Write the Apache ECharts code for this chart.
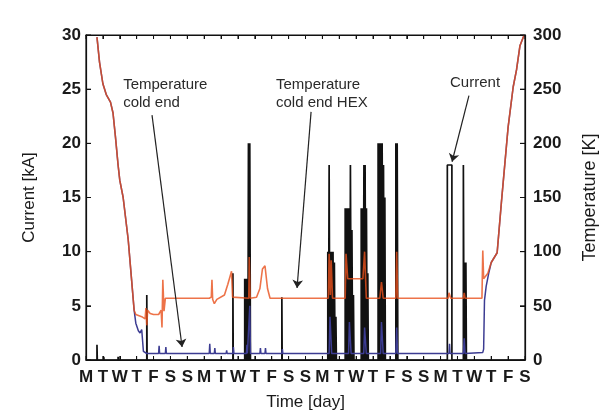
<!DOCTYPE html>
<html>
<head>
<meta charset="utf-8">
<script src="https://cdn.jsdelivr.net/npm/echarts@6/dist/echarts.min.js"></script>
<style>
  html, body { margin: 0; padding: 0; background: #fff; }
  #chart { width: 610px; height: 419px; }
</style>
</head>
<body>
<div id="chart"></div>
<script>
// day labels along the time axis (one per day, starting Monday)
const dayLabels = ['M','T','W','T','F','S','S','M','T','W','T','F','S','S',
                   'M','T','W','T','F','S','S','M','T','W','T','F','S'];
// tick values of the two vertical axes
const currentTicks = [0, 5, 10, 15, 20, 25, 30];
const tempTicks = [0, 50, 100, 150, 200, 250, 300];

// current pulses: start day, width (day), peak (kA)
const pulseDay   = [0.65, 1.05, 1.9, 3.6, 8.7, 9.4, 9.48, 9.56, 9.62, 9.7, 11.6,
                    14.32, 14.4, 14.47, 14.55, 14.63, 14.71, 14.8,
                    15.35, 15.43, 15.51, 15.59, 15.66, 15.75, 15.84,
                    16.3, 16.38, 16.46, 16.53, 16.61, 16.69,
                    17.3, 17.38, 17.46, 17.54, 17.62, 17.7,
                    18.35, 18.43, 21.4, 22.35, 22.42, 22.5];
const pulseWidth = [0.02, 0.02, 0.02, 0.02, 0.02, 0.04, 0.04, 0.03, 0.04, 0.04, 0.02,
                    0.04, 0.04, 0.04, 0.04, 0.04, 0.04, 0.03,
                    0.04, 0.04, 0.04, 0.04, 0.05, 0.04, 0.03,
                    0.04, 0.04, 0.04, 0.04, 0.04, 0.03,
                    0.04, 0.04, 0.04, 0.04, 0.04, 0.03,
                    0.04, 0.04, 0.27, 0.04, 0.04, 0.03];
const pulsePeak  = [1.4, 0.3, 0.3, 6.0, 8.0, 7.5, 7.5, 7.5, 20, 20, 5.8,
                    10, 18, 10, 10, 10, 9, 4,
                    14, 14, 14, 14, 18, 12, 6,
                    14, 14, 18, 18, 14, 8,
                    20, 20, 20, 20, 18, 15,
                    20, 20, 18, 18, 9, 9];

// temperature cold end HEX [day, K]
const hexTemp = [[0.65,298],[0.8,275],[1.0,255],[1.2,245],[1.45,238],[1.6,228],[1.75,205],[1.9,180],
  [2.0,166],[2.2,150],[2.5,111],[2.7,74],[2.85,46],[2.95,42],[3.3,40],[3.5,38],[3.55,48],[3.6,32],
  [3.65,46],[3.8,43],[4.0,42],[4.3,42],[4.45,46],[4.5,30],[4.55,74],[4.62,45],[4.7,57],[7.3,57],
  [7.42,58],[7.46,74],[7.5,56],[7.6,52],[7.75,56],[8.2,60],[8.4,70],[8.62,82],[8.68,58],[9.64,57],
  [9.67,95],[9.72,57],[10.1,58],[10.3,66],[10.45,84],[10.6,87],[10.75,66],[10.9,57],[14.35,57],
  [14.4,98],[14.47,60],[14.52,92],[14.6,57],[15.35,57],[15.4,98],[15.5,75],[16.4,75],[16.5,100],
  [16.6,57],[17.4,57],[17.5,72],[17.6,57],[18.35,57],[18.4,100],[18.46,57],[21.45,57],[21.5,62],
  [21.6,57],[22.35,57],[22.4,62],[22.45,57],[23.45,57],[23.5,101],[23.55,75],[23.8,80],[24.0,90],
  [24.35,99],[24.6,145],[25.0,215],[25.3,252],[25.5,268],[25.7,290],[25.95,300]];

// temperature cold end [day, K]
const coldTemp = [[0.65,298],[0.8,275],[1.0,255],[1.2,245],[1.45,238],[1.6,228],[1.75,205],[1.9,180],
  [2.0,166],[2.2,150],[2.5,111],[2.7,74],[2.85,46],[2.95,34],[3.1,27],[3.2,25],[3.3,28],[3.35,18],
  [3.4,8],[3.6,6],[4.3,6],[4.33,13],[4.36,6],[4.7,6],[4.73,12],[4.76,6],[7.3,6],[7.33,15],[7.36,6],
  [7.6,6],[7.63,11],[7.66,6],[8.3,6],[8.33,9],[8.36,6],[8.7,6],[8.73,12],[8.76,6],[9.5,6],[9.53,14],
  [9.56,6],[9.66,6],[9.7,50],[9.74,6],[10.3,6],[10.33,11],[10.36,6],[10.6,6],[10.63,11],[10.66,6],
  [11.6,6],[11.63,10],[11.66,6],[14.4,6],[14.45,40],[14.55,6],[15.55,6],[15.6,35],[15.7,6],
  [16.45,6],[16.5,30],[16.6,6],[17.45,6],[17.5,35],[17.6,6],[18.35,6],[18.4,30],[18.45,6],
  [21.5,6],[21.53,15],[21.56,6],[22.35,6],[22.4,20],[22.45,6],[23.5,7],[23.55,10],[23.6,55],
  [23.7,68],[23.85,80],[24.0,90],[24.35,99],[24.6,145],[25.0,215],[25.3,252],[25.5,268],
  [25.7,290],[25.95,300]];

// annotations (day, kA)
const noteText  = ['Temperature\ncold end', 'Temperature\ncold end HEX', 'Current'];
const notePos   = [[2.2, 24.6], [11.25, 24.6], [21.56, 25.6]];
const arrowFrom = [[3.91, 22.6], [13.33, 22.9], [22.68, 24.4]];
const arrowTo   = [[5.69, 1.2], [12.5, 6.65], [21.68, 18.3]];

(function () {
  // build the current trace from the pulses
  const currentData = [[0, 0]];
  pulseDay.forEach((d, i) => {
    const w = pulseWidth[i], p = pulsePeak[i];
    currentData.push([d, 0], [d, p], [d + w, p], [d + w, 0]);
  });
  currentData.push([26, 0]);

  const FONT = 'Liberation Sans, Arial, sans-serif';
  const txt = '#1a1a1a';

  const chart = echarts.init(document.getElementById('chart'), null, { renderer: 'canvas' });

  const frameLine = () => ({ show: true, onZero: false, lineStyle: { color: '#111', width: 1.2 } });
  const tickIn = len => ({ show: true, inside: true, length: len, lineStyle: { color: '#111' } });

  const option = {
    animation: false,
    grid: { left: 86, right: 85, top: 35, bottom: 59 },
    xAxis: [
      {
        type: 'value', min: 0, max: 26, interval: 1, position: 'bottom',
        name: 'Time [day]', nameLocation: 'middle', nameGap: 34,
        nameTextStyle: { fontFamily: FONT, fontSize: 17, color: txt },
        axisLine: frameLine(),
        axisTick: tickIn(4),
        axisLabel: {
          fontFamily: FONT, fontSize: 17, fontWeight: 'bold', color: txt, margin: 9,
          formatter: v => dayLabels[Math.round(v)] || ''
        },
        splitLine: { show: false }
      },
      {
        type: 'value', min: 0, max: 26, interval: 1, position: 'top',
        axisLine: frameLine(),
        axisTick: tickIn(4),
        axisLabel: { show: false },
        splitLine: { show: false }
      }
    ],
    yAxis: [
      {
        type: 'value', min: 0, max: 30, interval: 5, position: 'left',
        name: 'Current [kA]', nameLocation: 'middle', nameGap: 48,
        nameTextStyle: { fontFamily: FONT, fontSize: 17, color: txt },
        axisLine: frameLine(),
        axisTick: tickIn(5),
        axisLabel: { fontFamily: FONT, fontSize: 17, fontWeight: 'bold', color: txt, margin: 5 },
        splitLine: { show: false }
      },
      {
        type: 'value', min: 0, max: 300, interval: 50, position: 'right',
        name: 'Temperature [K]', nameLocation: 'middle', nameGap: 56,
        nameTextStyle: { fontFamily: FONT, fontSize: 18, color: txt },
        axisLine: frameLine(),
        axisTick: tickIn(5),
        axisLabel: { fontFamily: FONT, fontSize: 17, fontWeight: 'bold', color: txt, margin: 8 },
        splitLine: { show: false }
      }
    ],
    series: [
      {
        name: 'Current', type: 'line', xAxisIndex: 0, yAxisIndex: 0,
        data: currentData, symbol: 'none', z: 2,
        lineStyle: { color: '#111', width: 1.7 },
        markLine: {
          silent: true, symbol: ['none', 'arrow'], symbolSize: 8,
          lineStyle: { color: '#222', width: 1.2, type: 'solid' },
          label: { show: false },
          data: arrowFrom.map((a, i) => [{ coord: a }, { coord: arrowTo[i] }])
        },
        markPoint: {
          silent: true, symbol: 'circle', symbolSize: 0,
          label: {
            show: true, position: [0, 0], align: 'left', verticalAlign: 'middle',
            fontFamily: FONT, fontSize: 15, lineHeight: 18, color: '#2a2a2a',
            formatter: p => p.name
          },
          data: noteText.map((t, i) => ({ name: t, coord: notePos[i] }))
        }
      },
      {
        name: 'Temperature cold end', type: 'line', xAxisIndex: 0, yAxisIndex: 1,
        data: coldTemp, symbol: 'none', z: 3,
        lineStyle: { color: '#3c3c92', width: 1.5 }
      },
      {
        name: 'Temperature cold end HEX', type: 'line', xAxisIndex: 0, yAxisIndex: 1,
        data: hexTemp, symbol: 'none', z: 4,
        lineStyle: { color: '#e8501c', width: 1.6, opacity: 0.8 }
      }
    ]
  };

  chart.setOption(option);

  // plot frame with inward ticks, placed through the axes' own scales
  const px = (d, v, yi) => chart.convertToPixel({ xAxisIndex: 0, yAxisIndex: yi }, [d, v]);
  const lo = px(0, 0, 0), hi = px(26, 30, 0);
  const gx0 = lo[0], gy0 = lo[1], gx1 = hi[0], gy1 = hi[1];
  const seg = (x1, y1, x2, y2) => ({
    type: 'line', silent: true, z: 50,
    shape: { x1, y1, x2, y2 }, style: { stroke: '#111', lineWidth: 1 }
  });
  const frame = [{
    type: 'rect', silent: true, z: 50,
    shape: { x: gx0, y: gy1, width: gx1 - gx0, height: gy0 - gy1 },
    style: { stroke: '#111', lineWidth: 1.2, fill: null }
  }];
  dayLabels.forEach((_, d) => {
    const x = px(d, 0, 0)[0];
    frame.push(seg(x, gy0, x, gy0 - 4), seg(x, gy1, x, gy1 + 4));
  });
  currentTicks.forEach(v => { const y = px(0, v, 0)[1]; frame.push(seg(gx0, y, gx0 + 5, y)); });
  tempTicks.forEach(v => { const y = px(0, v, 1)[1]; frame.push(seg(gx1 - 5, y, gx1, y)); });
  chart.setOption({ graphic: { elements: frame } });
})();
</script>
</body>
</html>
